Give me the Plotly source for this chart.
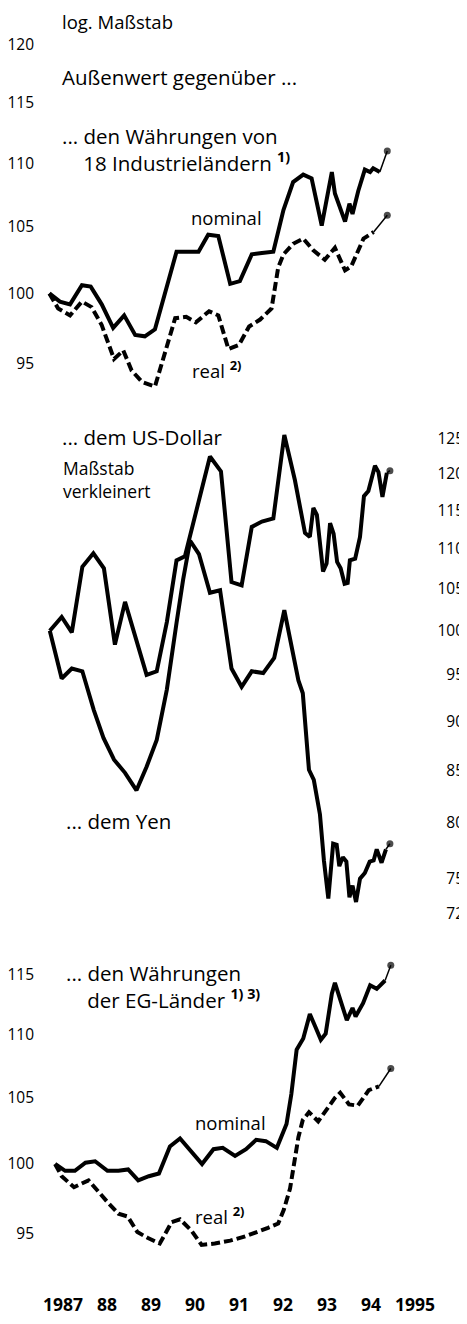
import math
import plotly.graph_objects as go

# The page body has an 8px default margin; the figure is sized so that
# it fills the 467x1324 window exactly once shifted by that margin.
WIN_W, WIN_H = 467, 1324
OFF = 8
W, H = WIN_W - OFF, WIN_H - 2 * OFF

# ---------------- data (log scale index values) ----------------
# Panel 1: gegenüber den Währungen von 18 Industrieländern
ind_nom_t = [1987.19, 1987.43, 1987.66, 1987.93, 1988.13, 1988.38, 1988.64, 1988.89, 1989.14, 1989.36,
             1989.59, 1990.08, 1990.58, 1990.80, 1991.03, 1991.30, 1991.52, 1991.79, 1992.02, 1992.28,
             1992.51, 1992.73, 1992.96, 1993.15, 1993.38, 1993.61, 1993.68, 1993.91, 1994.01, 1994.08,
             1994.21, 1994.36, 1994.48, 1994.55, 1994.70, 1994.87]
ind_nom_v = [100.0, 99.4, 99.2, 100.6, 100.5, 99.2, 97.5, 98.4, 97.0, 96.9,
             97.4, 103.1, 103.1, 104.4, 104.3, 100.7, 100.9, 102.9, 103.0, 103.1,
             106.3, 108.5, 109.1, 108.8, 105.1, 109.3, 107.6, 105.4, 106.8, 106.0,
             107.8, 109.5, 109.3, 109.6, 109.3, 111.0]
ind_real_t = [1987.19, 1987.39, 1987.66, 1987.93, 1988.15, 1988.38, 1988.66, 1988.87, 1989.06, 1989.30,
              1989.59, 1989.82, 1990.05, 1990.30, 1990.52, 1990.82, 1991.03, 1991.26, 1991.50, 1991.73,
              1991.98, 1992.24, 1992.39, 1992.51, 1992.73, 1992.96, 1993.19, 1993.45, 1993.68, 1993.91,
              1994.05, 1994.33, 1994.56, 1994.87]
ind_real_v = [100.0, 98.9, 98.4, 99.4, 99.0, 97.7, 95.3, 95.9, 94.5, 93.7,
              93.4, 95.7, 98.2, 98.3, 97.9, 98.7, 98.4, 96.0, 96.3, 97.6,
              98.1, 98.9, 101.9, 102.9, 103.7, 104.1, 103.2, 102.5, 103.4, 101.7,
              102.0, 104.1, 104.6, 105.9]

# Panel 2: gegenüber dem US-Dollar und dem Yen (Maßstab verkleinert)
usd_t = [1987.20, 1987.47, 1987.70, 1987.94, 1988.19, 1988.43, 1988.68, 1988.91, 1989.40, 1989.63,
         1989.86, 1990.08, 1990.27, 1990.84, 1991.09, 1991.33, 1991.56, 1991.79, 1992.02, 1992.28,
         1992.53, 1992.77, 1993.00, 1993.11, 1993.19, 1993.27, 1993.41, 1993.49, 1993.57, 1993.65,
         1993.73, 1993.81, 1993.90, 1993.97, 1994.02, 1994.14, 1994.25, 1994.34, 1994.44, 1994.59,
         1994.67, 1994.76, 1994.86, 1994.93]
usd_v = [100.0, 101.6, 99.8, 107.7, 109.4, 107.5, 98.4, 103.4, 95.0, 95.4,
         101.0, 108.5, 109.0, 122.4, 120.3, 105.8, 105.4, 112.8, 113.5, 113.9,
         125.5, 119.1, 112.0, 111.5, 115.3, 114.4, 107.1, 108.1, 113.3, 111.9,
         108.3, 107.5, 105.6, 105.7, 108.5, 108.7, 111.5, 116.9, 117.6, 121.1,
         120.2, 116.8, 120.1, 120.4]
yen_t = [1987.20, 1987.47, 1987.70, 1987.94, 1988.20, 1988.42, 1988.66, 1988.91, 1989.17, 1989.40,
         1989.63, 1989.86, 1990.08, 1990.23, 1990.39, 1990.59, 1990.84, 1991.07, 1991.33, 1991.56,
         1991.79, 1992.05, 1992.30, 1992.53, 1992.85, 1992.95, 1993.09, 1993.20, 1993.34, 1993.43,
         1993.53, 1993.64, 1993.72, 1993.78, 1993.86, 1993.94, 1994.01, 1994.08, 1994.16, 1994.25,
         1994.36, 1994.47, 1994.56, 1994.63, 1994.74, 1994.84, 1994.93]
yen_v = [100.0, 94.6, 95.7, 95.4, 91.2, 88.3, 86.1, 84.8, 83.1, 85.4,
         88.1, 93.4, 100.9, 106.1, 111.0, 109.3, 104.5, 104.8, 95.7, 93.7,
         95.4, 95.2, 96.9, 102.4, 94.4, 93.0, 85.1, 84.1, 80.8, 76.6,
         73.3, 78.1, 78.0, 76.1, 76.9, 76.5, 73.4, 74.4, 73.0, 75.0,
         75.5, 76.5, 76.6, 77.6, 76.4, 77.6, 78.1]

# Panel 3: gegenüber den Währungen der EG-Länder
eg_nom_t = [1987.32, 1987.55, 1987.77, 1988.01, 1988.23, 1988.51, 1988.76, 1988.98, 1989.21, 1989.45,
            1989.68, 1989.93, 1990.16, 1990.42, 1990.66, 1990.92, 1991.13, 1991.41, 1991.66, 1991.89,
            1992.11, 1992.36, 1992.58, 1992.69, 1992.81, 1992.96, 1993.11, 1993.23, 1993.36, 1993.47,
            1993.61, 1993.68, 1993.95, 1994.08, 1994.15, 1994.32, 1994.48, 1994.63, 1994.82, 1994.95]
eg_nom_v = [100.0, 99.5, 99.5, 100.1, 100.2, 99.5, 99.5, 99.6, 98.8, 99.1,
            99.3, 101.3, 101.9, 100.9, 100.0, 101.1, 101.2, 100.6, 101.1, 101.8,
            101.7, 101.2, 103.0, 105.3, 108.8, 109.7, 111.7, 110.7, 109.6, 110.1,
            113.4, 114.3, 111.2, 112.2, 111.5, 112.6, 114.1, 113.8, 114.5, 115.8]
eg_real_t = [1987.32, 1987.47, 1987.75, 1988.08, 1988.52, 1988.76, 1988.97, 1989.19, 1989.42, 1989.70,
             1989.97, 1990.16, 1990.42, 1990.65, 1990.95, 1991.30, 1991.64, 1991.93, 1992.16, 1992.39,
             1992.52, 1992.66, 1992.75, 1992.85, 1992.95, 1993.09, 1993.30, 1993.48, 1993.68, 1993.80,
             1994.00, 1994.20, 1994.45, 1994.68, 1994.95]
eg_real_v = [100.0, 99.1, 98.3, 98.8, 97.2, 96.4, 96.2, 95.1, 94.7, 94.3,
             95.8, 96.0, 95.2, 94.2, 94.3, 94.5, 94.8, 95.1, 95.4, 95.7,
             96.7, 98.2, 99.9, 102.0, 103.3, 103.9, 103.2, 104.0, 105.0, 105.4,
             104.5, 104.4, 105.6, 105.9, 107.3]

top_ticks = [95, 100, 105, 110, 115, 120]
mid_ticks = [72, 75, 80, 85, 90, 95, 100, 105, 110, 115, 120, 125]
bot_ticks = [95, 100, 105, 110, 115]
year_vals = [1987.5 + i for i in range(9)]
year_text = ["1987", "88", "89", "90", "91", "92", "93", "94", "1995"]

# ---------------- layout helpers (positions in window pixels) ----------------
def px_x(x):
    return (x - OFF) / W

def px_y(y):
    return 1 - (y - OFF) / H

def log_axis(y_top, y_bot, ref_val, ref_y, px_per_ln):
    vt = ref_val * math.exp((ref_y - y_top) / px_per_ln)
    vb = ref_val * math.exp((ref_y - y_bot) / px_per_ln)
    return [px_y(y_bot), px_y(y_top)], [math.log10(vb), math.log10(vt)]

dom1, rng1 = log_axis(OFF, 400, 120, 44.7, 1364)
dom2, rng2 = log_axis(405, 935, 100, 630.7, 862)
dom3, rng3 = log_axis(940, 1290, 100, 1164, 1355)

x0_px, px_per_year = 41, 44.0
xr = [1987 + (OFF - x0_px) / px_per_year, 1987 + (WIN_W - x0_px) / px_per_year]

BLACK = "#000000"
FONT = "Open Sans"

fig = go.Figure()

def add_series(t, v, yax, dash):
    fig.add_trace(go.Scatter(x=t[:-1], y=v[:-1], mode="lines", yaxis=yax,
                             line=dict(color=BLACK, width=4, dash=dash),
                             hoverinfo="skip", showlegend=False))
    fig.add_trace(go.Scatter(x=t[-2:], y=v[-2:], mode="lines+markers", yaxis=yax,
                             line=dict(color=BLACK, width=1.5),
                             marker=dict(color=BLACK, size=[0, 7], line=dict(width=0)),
                             hoverinfo="skip", showlegend=False))

DASH = "9px,4px"
add_series(ind_nom_t, ind_nom_v, "y", "solid")
add_series(ind_real_t, ind_real_v, "y", DASH)
add_series(usd_t, usd_v, "y2", "solid")
add_series(yen_t, yen_v, "y2", "solid")
add_series(eg_nom_t, eg_nom_v, "y3", "solid")
add_series(eg_real_t, eg_real_v, "y3", DASH)

tickfont = dict(family=FONT, size=15.5, color=BLACK)
common_y = dict(type="log", showgrid=False, zeroline=False, showline=False, ticks="",
                tickfont=tickfont, fixedrange=True, side="left", anchor="free")

fig.update_layout(
    width=W, height=H, autosize=False,
    margin=dict(l=0, r=0, t=0, b=0),
    paper_bgcolor="white", plot_bgcolor="white",
    xaxis=dict(domain=[0, 1], range=xr, anchor="free", position=px_y(1292),
               tickvals=year_vals, ticktext=year_text, showgrid=False, zeroline=False,
               showline=False, ticks="", fixedrange=True,
               tickfont=dict(family=FONT, size=17.5, color=BLACK, weight="bold")),
    yaxis=dict(domain=dom1, range=rng1, tickvals=top_ticks, ticktext=[str(v) for v in top_ticks],
               position=px_x(34), **common_y),
    yaxis2=dict(domain=dom2, range=rng2, tickvals=mid_ticks, ticktext=[str(v) for v in mid_ticks],
                position=px_x(464), **common_y),
    yaxis3=dict(domain=dom3, range=rng3, tickvals=bot_ticks, ticktext=[str(v) for v in bot_ticks],
                position=px_x(34), **common_y),
)

def note(text, x, y, size=20.5):
    fig.add_annotation(text=text, x=px_x(x), y=px_y(y), xref="paper", yref="paper",
                       xanchor="left", yanchor="middle", showarrow=False, align="left",
                       borderpad=0, font=dict(family=FONT, size=size, color=BLACK))

SUP = "<sup><b>%s</b></sup>"
IND = "&nbsp;" * 4
note("log. Maßstab", 61, 21, 18.5)
note("Außenwert gegenüber ...", 61, 77)
note("... den Währungen von<br>" + IND + "18 Industrieländern " + SUP % "1)", 61, 149.5)
note("nominal", 190, 217, 18.5)
note("real " + SUP % "2)", 191, 369, 18.5)
note("... dem US-Dollar", 61, 437)
note("Maßstab<br>verkleinert", 62, 479, 17.5)
note("... dem Yen", 65, 821)
note("... den Währungen<br>" + IND + "der EG-Länder " + SUP % "1) 3)", 65, 986)
note("nominal", 194, 1122, 18.5)
note("real " + SUP % "2)", 194, 1215, 18.5)

fig.write_html("out.html")
